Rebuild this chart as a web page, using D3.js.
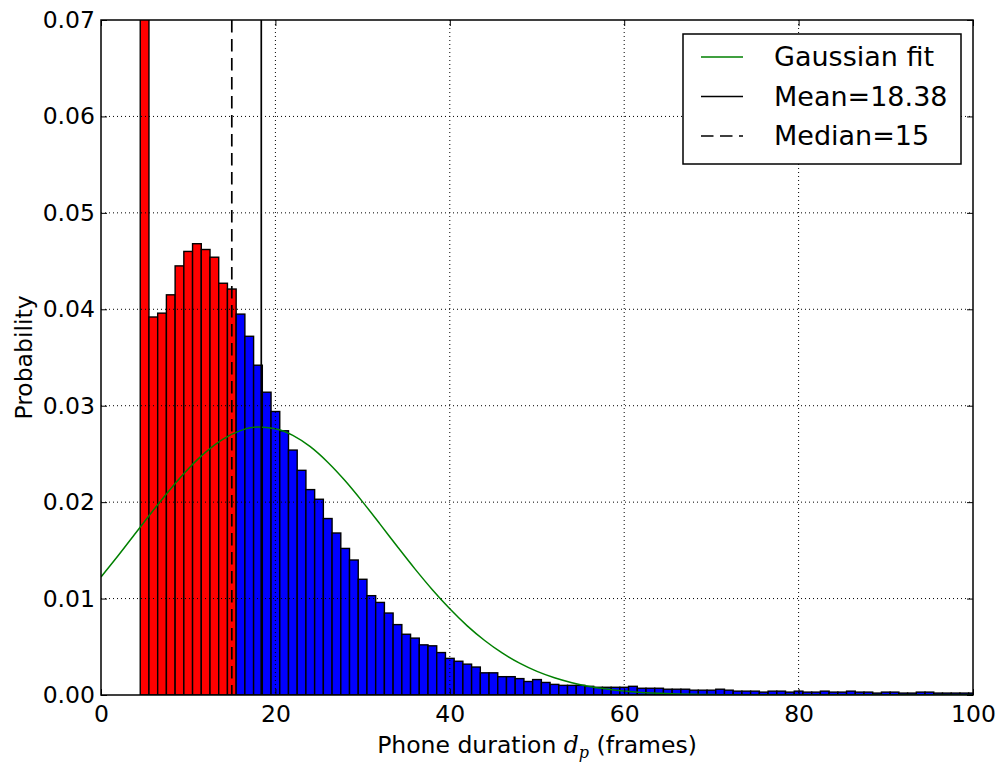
<!DOCTYPE html>
<html>
<head>
<meta charset="utf-8">
<script src="https://cdn.jsdelivr.net/npm/d3@7"></script>
<style>
  body { margin: 0; background: #fff; }
  svg text { font-family: "DejaVu Sans", sans-serif; fill: #000; }
</style>
</head>
<body>
<div id="chart"></div>
<script>
// histogram of phone durations (bins centred on whole frames)
var durations = d3.range(5, 101);
var probabilities = [
  0.0950, 0.0392, 0.0396, 0.0415, 0.0445, 0.0460, 0.0468, 0.0462, 0.0454, 0.0427,   // 5-14
  0.0421, 0.0395, 0.0372, 0.0342, 0.0314, 0.0294, 0.0274, 0.0254, 0.0233, 0.0213,   // 15-24
  0.0203, 0.0183, 0.0168, 0.0152, 0.0140, 0.0120, 0.0103, 0.0096, 0.0085, 0.0073,   // 25-34
  0.0063, 0.0059, 0.0052, 0.0051, 0.0044, 0.0038, 0.0035, 0.0032, 0.0029, 0.0023,   // 35-44
  0.0023, 0.0019, 0.0019, 0.0017, 0.0014, 0.0016, 0.0013, 0.0011, 0.0010, 0.0010,   // 45-54
  0.0010, 0.0009, 0.0008, 0.0008, 0.0008, 0.0008, 0.0009, 0.0007, 0.0007, 0.0007,   // 55-64
  0.0006, 0.0006, 0.0006, 0.0005, 0.0005, 0.0005, 0.0006, 0.0005, 0.0004, 0.0004,   // 65-74
  0.0004, 0.0003, 0.0004, 0.0004, 0.0003, 0.0004, 0.0003, 0.0003, 0.0004, 0.0003,   // 75-84
  0.0003, 0.0004, 0.0003, 0.0003, 0.0002, 0.0003, 0.0003, 0.0002, 0.0002, 0.0003,   // 85-94
  0.0003, 0.0002, 0.0002, 0.0002, 0.0002, 0.0002                                    // 95-100
];

// gaussian fit curve, every 2 frames
var fitX = d3.range(0, 102, 2);
var fitY = [
  0.01224, 0.01449, 0.01683, 0.01916, 0.02140, 0.02344, 0.02518, 0.02654, 0.02742, 0.02779,
  0.02762, 0.02693, 0.02575, 0.02414, 0.02221, 0.02003, 0.01772, 0.01537, 0.01308, 0.01092,
  0.00894, 0.00717, 0.00565, 0.00436, 0.00330, 0.00245, 0.00179, 0.00128, 0.00089, 0.00062,
  0.00041, 0.00027, 0.00018, 0.00011, 0.00007, 0.00004, 0.00002, 0.00001, 0, 0,
  0, 0, 0, 0, 0, 0, 0, 0, 0, 0, 0
];

var meanValue = 18.38;
var medianValue = 15;

var xTicks = [0, 20, 40, 60, 80, 100];
var yTicks = [0, 0.01, 0.02, 0.03, 0.04, 0.05, 0.06, 0.07];
var legendLabels = ["Gaussian fit", "Mean=18.38", "Median=15"];

var W = 1000, H = 762;
var margin = {top: 20, right: 27, bottom: 67, left: 101};
var w = W - margin.left - margin.right;
var h = H - margin.top - margin.bottom;

var svg = d3.select("#chart").append("svg")
  .attr("width", W)
  .attr("height", H);

var g = svg.append("g")
  .attr("transform", "translate(" + margin.left + "," + margin.top + ")");

var x = d3.scaleLinear().domain([0, 100]).range([0, w]);
var y = d3.scaleLinear().domain([0, 0.07]).range([h, 0]);

g.append("clipPath").attr("id", "plotclip")
  .append("rect").attr("width", w).attr("height", h);

var plot = g.append("g").attr("clip-path", "url(#plotclip)");

// bars
var bins = durations.map(function(d, i) { return {d: d, p: probabilities[i]}; });
plot.selectAll("rect.bar")
  .data(bins)
  .enter().append("rect")
  .attr("class", "bar")
  .attr("x", function(b) { return x(b.d - 0.5); })
  .attr("width", function(b) { return x(b.d + 0.5) - x(b.d - 0.5); })
  .attr("y", function(b) { return y(b.p); })
  .attr("height", function(b) { return y(0) - y(b.p); })
  .style("fill", function(b) { return b.d <= medianValue ? "#ff0000" : "#0000ff"; })
  .style("stroke", "#000")
  .style("stroke-width", 1.4);

// gaussian fit
var line = d3.line()
  .x(function(d) { return x(d[0]); })
  .y(function(d) { return y(d[1]); })
  .curve(d3.curveMonotoneX);
plot.append("path")
  .datum(fitX.map(function(v, i) { return [v, fitY[i]]; }))
  .attr("d", line)
  .style("fill", "none")
  .style("stroke", "#008000")
  .style("stroke-width", 1.5);

// mean and median
plot.append("line")
  .attr("x1", x(meanValue)).attr("x2", x(meanValue))
  .attr("y1", 0).attr("y2", h)
  .style("stroke", "#000").style("stroke-width", 1.7);
plot.append("line")
  .attr("x1", x(medianValue)).attr("x2", x(medianValue))
  .attr("y1", 0).attr("y2", h)
  .style("stroke", "#000").style("stroke-width", 1.7)
  .style("stroke-dasharray", "12.5,6.5");

// dotted grid on top
var grid = g.append("g");
grid.selectAll("line.gx")
  .data(xTicks.slice(1, -1))
  .enter().append("line")
  .attr("x1", function(d) { return x(d); }).attr("x2", function(d) { return x(d); })
  .attr("y1", 0).attr("y2", h);
grid.selectAll("line.gy")
  .data(yTicks.slice(1, -1))
  .enter().append("line")
  .attr("x1", 0).attr("x2", w)
  .attr("y1", function(d) { return y(d); }).attr("y2", function(d) { return y(d); });
grid.selectAll("line")
  .style("stroke", "#000")
  .style("stroke-width", 1)
  .style("stroke-dasharray", "1,3");

// axes, ticks pointing inwards on all four sides
function styleAxis(sel) {
  sel.select(".domain").remove();
  sel.selectAll(".tick line").style("stroke", "#000").style("stroke-width", 1);
  sel.selectAll(".tick text").style("font-size", "23.5px").style("font-family", "DejaVu Sans, sans-serif");
}

g.append("g")
  .attr("transform", "translate(0," + h + ")")
  .call(d3.axisBottom(x).tickValues(xTicks).tickFormat(d3.format("d")).tickSizeInner(-6).tickPadding(10))
  .call(styleAxis);
g.append("g")
  .call(d3.axisTop(x).tickValues(xTicks).tickFormat("").tickSizeInner(-6))
  .call(styleAxis);
g.append("g")
  .call(d3.axisLeft(y).tickValues(yTicks).tickFormat(d3.format(".2f")).tickSizeInner(-6).tickPadding(6))
  .call(styleAxis);
g.append("g")
  .attr("transform", "translate(" + w + ",0)")
  .call(d3.axisRight(y).tickValues(yTicks).tickFormat("").tickSizeInner(-6))
  .call(styleAxis);

g.append("rect")
  .attr("width", w).attr("height", h)
  .style("fill", "none").style("stroke", "#000").style("stroke-width", 1.5);

// axis labels
svg.append("text")
  .attr("transform", "translate(24," + (margin.top + h / 2) + ") rotate(-90)")
  .attr("text-anchor", "middle")
  .attr("dy", "0.35em")
  .style("font-size", "23.5px")
  .text("Probability");

var xl = svg.append("text")
  .attr("x", margin.left + w / 2)
  .attr("y", 753)
  .attr("text-anchor", "middle")
  .style("font-size", "23.5px");
xl.append("tspan").text("Phone duration ");
xl.append("tspan").text("d").style("font-family", "DejaVu Serif, serif").style("font-style", "italic");
xl.append("tspan").text("p").attr("dy", 5).style("font-size", "16px")
  .style("font-family", "DejaVu Serif, serif").style("font-style", "italic");
xl.append("tspan").text(" (frames)").attr("dy", -5);

// legend
var leg = svg.append("g").attr("transform", "translate(683,34)");
leg.append("rect")
  .attr("width", 278).attr("height", 130)
  .style("fill", "#fff").style("stroke", "#000").style("stroke-width", 1.5);
var legStyles = [
  {stroke: "#008000", dash: null},
  {stroke: "#000", dash: null},
  {stroke: "#000", dash: "12.5,6.5"}
];
legendLabels.forEach(function(t, i) {
  var cy = 23 + i * 39.5;
  leg.append("line")
    .attr("x1", 18).attr("x2", 60)
    .attr("y1", cy).attr("y2", cy)
    .style("stroke", legStyles[i].stroke)
    .style("stroke-width", 1.5)
    .style("stroke-dasharray", legStyles[i].dash);
  leg.append("text")
    .attr("x", 91).attr("y", cy)
    .attr("dy", "0.35em")
    .style("font-size", "27px")
    .text(t);
});
</script>
</body>
</html>
